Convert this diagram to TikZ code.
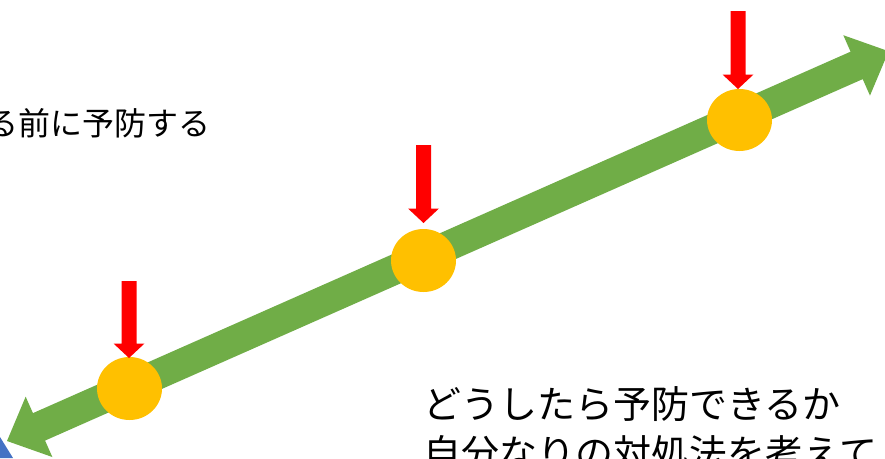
\documentclass[tikz,border=0pt]{standalone}
\usepackage{fontspec}
\newfontfamily\jp{Noto Sans CJK JP}
\usetikzlibrary{calc}
\definecolor{lgreen}{HTML}{70AD47}
\definecolor{lgold}{HTML}{FFC000}
\definecolor{lblue}{HTML}{4472C4}
\tikzset{
  greenarrow/.style={fill=lgreen, draw=none},
  dot/.style={fill=lgold, draw=none},
  redarrow/.style={fill=red, draw=none},
  jtext/.style={inner sep=0pt, text=black, font=\jp\fontsize{#1}{#1}\selectfont}
}
\begin{document}
\begin{tikzpicture}[x=1pt,y=-1pt]
\useasboundingbox (0,0) rectangle (885,458);
\clip (0,0) rectangle (885,458);
\fill[white] (0,0) rectangle (885,458);
% blue corner shape
\fill[lblue] (0,437) -- (13,458) -- (0,458) -- cycle;
% green double arrow
\begin{scope}[shift={(7,441)}, rotate=23.85]
\fill[greenarrow] (0pt,0pt) -- (35pt,33pt) -- (35pt,15pt) -- (929pt,15pt) -- (929pt,33pt)
  -- (964pt,0pt) -- (929pt,-33pt) -- (929pt,-15pt) -- (35pt,-15pt) -- (35pt,-33pt) -- cycle;
\end{scope}
% yellow dots
\fill[dot] (129.5,388.5) ellipse [x radius=32.5pt, y radius=31.5pt];
\fill[dot] (423.5,260.5) ellipse [x radius=32.5pt, y radius=31.5pt];
\fill[dot] (739.5,120) ellipse [x radius=32.5pt, y radius=31pt];
% red arrows
\foreach \cx/\ty/\tip in {129/281/358, 423.5/145/223, 738/11/89}{
  \fill[redarrow] (\cx-7.5,\ty) -- (\cx+7.5,\ty) -- (\cx+7.5,\tip-14.5) -- (\cx+15.5,\tip-14.5)
    -- (\cx,\tip) -- (\cx-15.5,\tip-14.5) -- (\cx-7.5,\tip-14.5) -- cycle;
}
% texts
\node[jtext=32, anchor=base east] (t1) at (211,135) {る前に予防する};
\node[jtext=38, anchor=base west] (t2) at (423,418) {どうしたら予防できるか};
\node[jtext=38, anchor=base west] (t3) at (423,467) {自分なりの対処法を考えて};
\end{tikzpicture}
\end{document}
